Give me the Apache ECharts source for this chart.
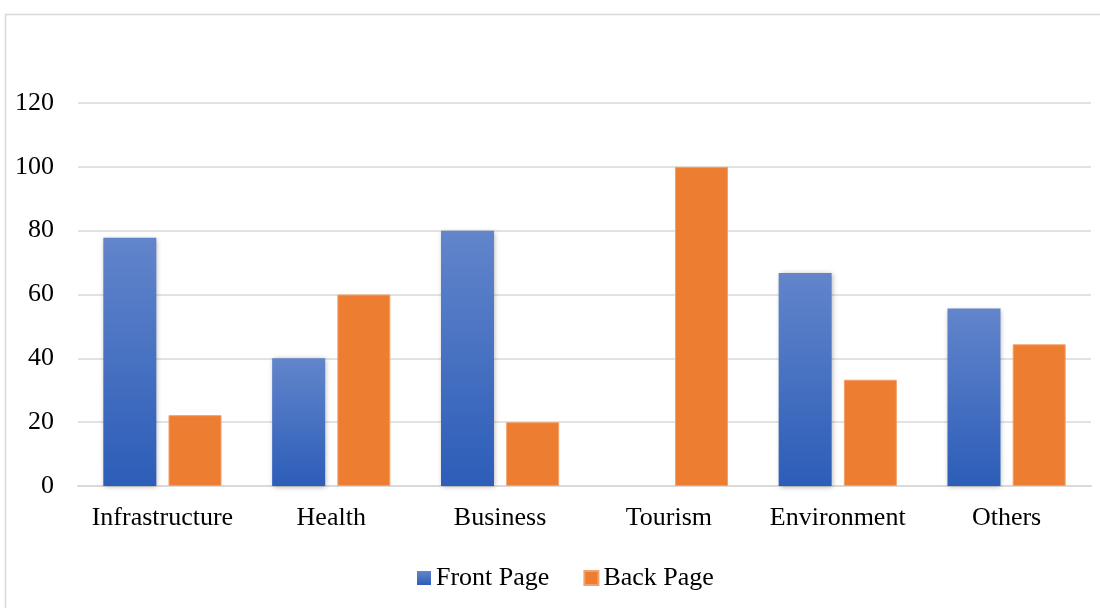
<!DOCTYPE html>
<html>
<head>
<meta charset="utf-8">
<script src="https://cdn.jsdelivr.net/npm/echarts@6/dist/echarts.min.js"></script>
<style>html,body{margin:0;padding:0;background:#fff;}#c{width:1100px;height:608px;}</style>
</head>
<body>
<div id="c"></div>
<script>
const categories = ['Infrastructure', 'Health', 'Business', 'Tourism', 'Environment', 'Others'];
const frontPage = [77.8, 40, 80, 0, 66.7, 55.6];
const backPage = [22.2, 60, 20, 100, 33.3, 44.4];
const seriesNames = ['Front Page', 'Back Page'];
const yTicks = { min: 0, max: 120, interval: 20 };

const font = '"Liberation Serif", "Times New Roman", serif';
const chart = echarts.init(document.getElementById('c'), null, { renderer: 'canvas' });
const blueGrad = new echarts.graphic.LinearGradient(0, 0, 0, 1, [
  { offset: 0, color: '#6285cb' },
  { offset: 1, color: '#2c5db8' }
]);
chart.setOption({
  animation: false,
  backgroundColor: '#fff',
  graphic: [{
    type: 'rect', shape: { x: 5.5, y: 14.5, width: 1200, height: 700 },
    style: { fill: 'none', stroke: '#d9d9d9', lineWidth: 1.5 }, silent: true, z: -1
  }],
  grid: { left: 78, right: 9, top: 103, bottom: 122 },
  legend: {
    data: seriesNames, bottom: 12, left: 412, itemWidth: 14, itemHeight: 14, itemGap: 34,
    icon: 'rect', textStyle: { fontFamily: font, fontSize: 26, color: '#000' }
  },
  xAxis: {
    type: 'category', data: categories,
    axisLine: { show: true, lineStyle: { color: '#d9d9d9', width: 2 } },
    axisTick: { show: false },
    axisLabel: { fontFamily: font, fontSize: 26, color: '#000', margin: 19, interval: 0 }
  },
  yAxis: {
    type: 'value', min: yTicks.min, max: yTicks.max, interval: yTicks.interval,
    axisLine: { show: false }, axisTick: { show: false },
    splitLine: { lineStyle: { color: '#d9d9d9', width: 1.5 } },
    axisLabel: { fontFamily: font, fontSize: 26, color: '#000', margin: 24 }
  },
  series: [
    {
      name: seriesNames[0], type: 'bar', data: frontPage, barWidth: 53, barGap: '23%',
      itemStyle: { color: blueGrad, shadowColor: 'rgba(0,0,0,0.3)', shadowBlur: 5, shadowOffsetX: 1, shadowOffsetY: 1 }
    },
    {
      name: seriesNames[1], type: 'bar', data: backPage, barWidth: 53,
      itemStyle: { color: '#ed7d31', borderColor: '#f4a06b', borderWidth: 1 }
    }
  ]
});
</script>
</body>
</html>
